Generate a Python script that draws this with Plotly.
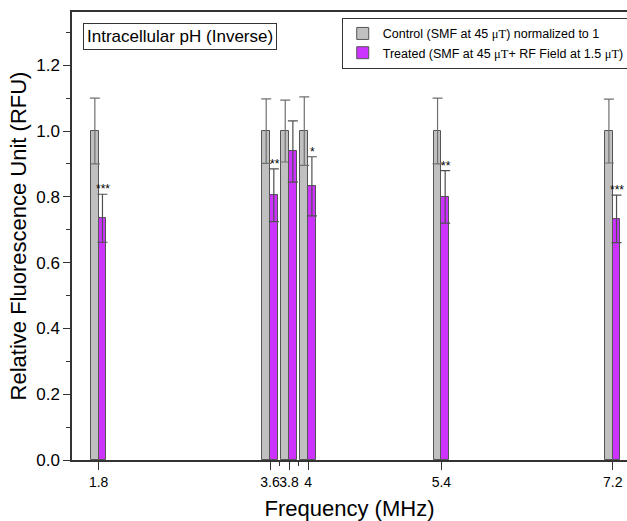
import plotly.graph_objects as go

freqs = [1.8, 3.6, 3.8, 4.0, 5.4, 7.2]
tick_labels = ["1.8", "3.6", "3.8", "4", "5.4", "7.2"]
control = [1.0, 1.0, 1.0, 1.0, 1.0, 1.0]
control_err = [0.10, 0.098, 0.094, 0.104, 0.10, 0.097]
treated = [0.735, 0.805, 0.938, 0.832, 0.80, 0.733]
treated_err = [0.073, 0.08, 0.093, 0.09, 0.08, 0.072]
stars = ["***", "**", "", "*", "**", "***"]

bw = 0.08
font = "Liberation Sans, Arial, sans-serif"

fig = go.Figure()
fig.add_trace(go.Bar(
    x=freqs, y=control, width=bw, offset=-bw,
    name='Control (SMF at 45 <span style="font-family:Liberation Serif">μT</span>) normalized to 1',
    marker=dict(color="#c0c0c0", line=dict(color="#555555", width=1)),
    error_y=dict(type="data", array=control_err, visible=True, color="#707070", thickness=1.2, width=5),
))
fig.add_trace(go.Bar(
    x=freqs, y=treated, width=bw, offset=0,
    name='Treated (SMF at 45 <span style="font-family:Liberation Serif">μT</span>+ RF Field at 1.5 <span style="font-family:Liberation Serif">μT</span>)',
    marker=dict(color="#cc33ff", line=dict(color="#555555", width=1)),
    error_y=dict(type="data", array=treated_err, visible=True, color="#505050", thickness=1.2, width=5),
))

for f, t, e, s in zip(freqs, treated, treated_err, stars):
    if s:
        fig.add_annotation(x=f + bw / 2 + 0.01, y=t + e, text=s, showarrow=False,
                           yanchor="bottom", yshift=-4, font=dict(family=font, size=12, color="black"))

fig.add_annotation(x=0.02, y=0.976, xref="paper", yref="paper", xanchor="left", yanchor="top",
                   text="Intracellular pH (Inverse)", showarrow=False,
                   font=dict(family=font, size=17, color="black"),
                   bordercolor="#333333", borderwidth=1, borderpad=3, bgcolor="white")

fig.update_layout(
    width=627, height=521,
    margin=dict(l=72, r=0, t=12, b=61, autoexpand=False),
    plot_bgcolor="white", paper_bgcolor="white",
    font=dict(family=font, color="black"),
    showlegend=True,
    legend=dict(x=0.486, y=0.987, xanchor="left", yanchor="top",
                bordercolor="#333333", borderwidth=1, bgcolor="white",
                font=dict(family=font, size=12.5, color="black"),
                tracegroupgap=0, itemwidth=30),
    bargap=0,
)
fig.update_xaxes(
    range=[1.52, 7.35], tickvals=freqs, ticktext=tick_labels, tickangle=0,
    automargin=False,
    ticks="outside", ticklen=8, tickwidth=1, tickcolor="#333333",
    showline=True, linecolor="#333333", linewidth=1.5, mirror=True,
    showgrid=False, zeroline=False,
    tickfont=dict(family=font, size=14, color="black"),
    minor=dict(tickvals=[3.7, 3.9], ticks="outside", ticklen=4, tickcolor="#333333"),
    title=dict(text="Frequency (MHz)", font=dict(family=font, size=22, color="black"), standoff=12),
)
fig.update_yaxes(
    range=[0, 1.362], dtick=0.2, tickformat=".1f",
    automargin=False,
    ticks="outside", ticklen=7, tickwidth=1, tickcolor="#333333",
    showline=True, linecolor="#333333", linewidth=1.5,
    showgrid=False, zeroline=False,
    tickfont=dict(family=font, size=17, color="black"),
    minor=dict(dtick=0.1, ticks="outside", ticklen=4, tickcolor="#333333"),
    title=dict(text="Relative Fluorescence Unit (RFU)", font=dict(family=font, size=22, color="black"), standoff=4),
)

fig.write_html("out.html", config={"displayModeBar": False},
               post_script="document.body.style.margin='0';document.body.style.overflow='hidden';")
